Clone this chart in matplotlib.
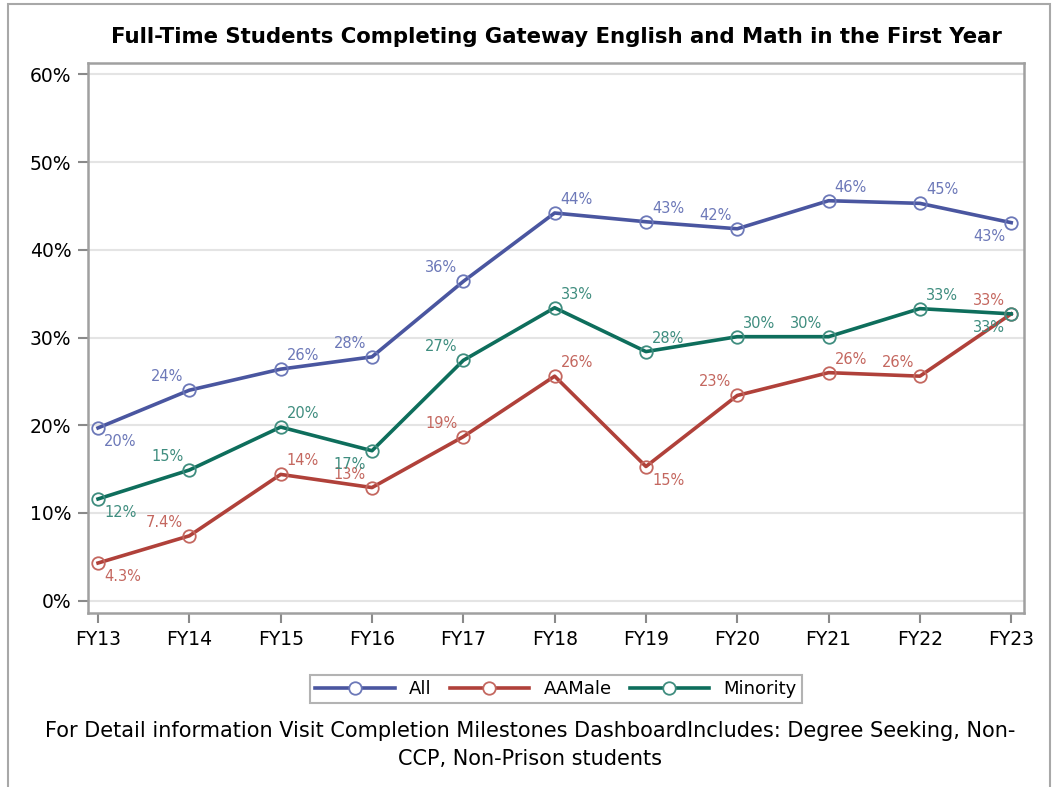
import matplotlib

matplotlib.use("Agg")
import matplotlib.pyplot as plt
from matplotlib.patches import Rectangle
from matplotlib.lines import Line2D

years = ["FY13", "FY14", "FY15", "FY16", "FY17", "FY18",
         "FY19", "FY20", "FY21", "FY22", "FY23"]
all_pct = [19.7, 24.0, 26.4, 27.8, 36.4, 44.2, 43.2, 42.4, 45.6, 45.3, 43.1]
aamale_pct = [4.3, 7.4, 14.4, 12.9, 18.7, 25.6, 15.3, 23.4, 26.0, 25.6, 32.7]
minority_pct = [11.6, 14.9, 19.8, 17.1, 27.4, 33.4, 28.4, 30.1, 30.1, 33.3, 32.7]

# label placement per point: (dx, dy) in pixels, plus alignment
UR, UL, LR, LL = (6, 6, "left", "bottom"), (-6, 6, "right", "bottom"), \
    (6, -6, "left", "top"), (-6, -6, "right", "top")
all_pos = [LR, UL, UR, UL, UL, UR, UR, UL, UR, UR, LL]
aam_pos = [LR, UL, UR, UL, UL, UR, LR, UL, UR, UL, UL]
min_pos = [LR, UL, UR, LL, UL, UR, UR, UR, UL, UR, LL]

series = [
    ("All", all_pct, "#4a56a0", "#6c78b8", all_pos),
    ("AAMale", aamale_pct, "#b0413a", "#c4675f", aam_pos),
    ("Minority", minority_pct, "#0e6e5c", "#3f8d7f", min_pos),
]


def fmt(v):
    return f"{v:.1f}%" if v < 10 else f"{v:.0f}%"


fig = plt.figure(figsize=(10.55, 7.87), dpi=100)
ax = fig.add_axes([88 / 1055, 1 - 613 / 787, (1024 - 88) / 1055, (613 - 63) / 787])

x = list(range(len(years)))
handles = []
for name, vals, col, light, pos in series:
    ax.plot(x, vals, color=col, lw=2.6, zorder=3)
    ax.plot(x, vals, ls="none", marker="o", ms=9, mfc="none", mec=light,
            mew=1.3, zorder=4)
    for xi, v, (dx, dy, ha, va) in zip(x, vals, pos):
        ax.annotate(fmt(v), (xi, v), textcoords="offset pixels", xytext=(dx, dy),
                    ha=ha, va=va, fontsize=10.5, color=light, zorder=5)
    handles.append(Line2D([], [], color=col, lw=2.6, marker="o", ms=9,
                          mfc="white", mec=light, mew=1.3, label=name))

ax.set_xlim(-0.11, 10.14)
ax.set_ylim(-1.4, 61.3)
ax.set_xticks(x)
ax.set_xticklabels(years, fontsize=13.5)
ax.set_yticks(range(0, 61, 10))
ax.set_yticklabels([f"{t}%" for t in range(0, 61, 10)], fontsize=13.5)
ax.grid(axis="y", color="#e4e4e4", lw=1.5, zorder=0)
ax.set_axisbelow(True)
for sp in ax.spines.values():
    sp.set_color("#a0a0a0")
    sp.set_linewidth(1.8)
ax.tick_params(length=7, width=1.5, color="#8a8a8a", pad=5)

leg = fig.legend(handles=handles, loc="center", ncol=3,
                 bbox_to_anchor=(556 / 1055, 1 - 689 / 787), fontsize=13,
                 frameon=True, fancybox=False, handlelength=4.4,
                 columnspacing=1.0, handletextpad=0.8, borderpad=0.3)
leg.get_frame().set_edgecolor("#a0a0a0")
leg.get_frame().set_linewidth(1.5)

fig.text(556 / 1055, 1 - 37 / 787,
         "Full-Time Students Completing Gateway English and Math in the First Year",
         ha="center", va="center", fontsize=15.3, fontweight="bold")
fig.text(530 / 1055, 1 - 745 / 787,
         "For Detail information Visit Completion Milestones DashboardIncludes: "
         "Degree Seeking, Non-\nCCP, Non-Prison students",
         ha="center", va="center", fontsize=15, linespacing=1.5)

fig.patches.append(Rectangle((8 / 1055, -0.01), (1050 - 8) / 1055, 1 - 4 / 787 + 0.01,
                             transform=fig.transFigure, fill=False,
                             edgecolor="#a8a8a8", lw=1.5))

fig.savefig("out.png", dpi=100)
